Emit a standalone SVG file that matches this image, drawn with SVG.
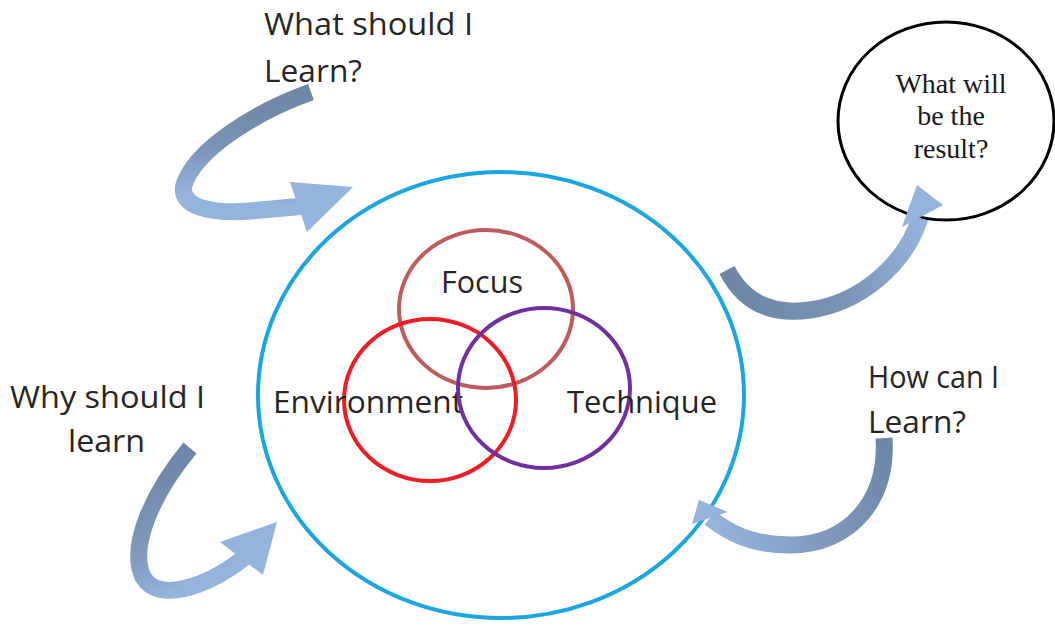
<svg xmlns="http://www.w3.org/2000/svg" width="1055" height="626" viewBox="0 0 1055 626">
<style>
.lbl{font-family:"Open Sans","Liberation Sans",Arial,sans-serif;font-size:31px;fill:#262626}
.res{font-family:"Liberation Serif","Times New Roman",serif;font-size:28px;fill:#1a1a1a;text-anchor:middle}
.rib{fill:none;stroke-width:17;stroke-linecap:butt}
.head{fill:#94b3dd}
</style>
<defs>
<linearGradient id="g1" gradientUnits="userSpaceOnUse" x1="311" y1="92" x2="300" y2="206"><stop offset="0" stop-color="#6e86a8"/><stop offset="0.5" stop-color="#7890b2"/><stop offset="1" stop-color="#94b3dd"/></linearGradient>
<linearGradient id="g2" gradientUnits="userSpaceOnUse" x1="190" y1="448" x2="242" y2="560"><stop offset="0" stop-color="#6e86a8"/><stop offset="0.6" stop-color="#8099bd"/><stop offset="1" stop-color="#94b3dd"/></linearGradient>
<linearGradient id="g3" gradientUnits="userSpaceOnUse" x1="727" y1="272" x2="920" y2="218"><stop offset="0" stop-color="#6e86a8"/><stop offset="0.5" stop-color="#7a92b4"/><stop offset="1" stop-color="#94b3dd"/></linearGradient>
<linearGradient id="g4" gradientUnits="userSpaceOnUse" x1="884" y1="440" x2="712" y2="520"><stop offset="0" stop-color="#6e86a8"/><stop offset="0.5" stop-color="#7f98bc"/><stop offset="1" stop-color="#94b3dd"/></linearGradient>
</defs>
<rect width="1055" height="626" fill="#ffffff"/>

<g id="main-circle"><ellipse cx="501" cy="395" rx="243" ry="223" fill="none" stroke="#1ba6e0" stroke-width="4"/></g>

<g id="focus"><ellipse cx="486" cy="309" rx="87" ry="79" fill="none" stroke="#bf5b5b" stroke-width="4"/><text class="lbl" x="441" y="293" textLength="82" lengthAdjust="spacingAndGlyphs">Focus</text></g>
<g id="environment"><ellipse cx="430" cy="400" rx="86" ry="81" fill="none" stroke="#ee1c25" stroke-width="4"/><text class="lbl" x="273" y="413" textLength="190" lengthAdjust="spacingAndGlyphs">Environment</text></g>
<g id="technique"><ellipse cx="544" cy="388" rx="86" ry="80" fill="none" stroke="#7030a0" stroke-width="4"/><text class="lbl" x="567" y="413" textLength="150" lengthAdjust="spacingAndGlyphs">Technique</text></g>

<g id="result"><ellipse cx="946" cy="121" rx="108" ry="99" fill="none" stroke="#000000" stroke-width="3"/>
<text class="res" x="951" y="93">What will</text>
<text class="res" x="951" y="125">be the</text>
<text class="res" x="951" y="158">result?</text></g>

<g id="q-what"><text class="lbl" x="264" y="35" textLength="209" lengthAdjust="spacingAndGlyphs">What should I</text><text class="lbl" x="264" y="82" textLength="98" lengthAdjust="spacingAndGlyphs">Learn?</text></g>
<g id="q-why"><text class="lbl" x="10" y="408" textLength="195" lengthAdjust="spacingAndGlyphs">Why should I</text><text class="lbl" x="68" y="452" textLength="77" lengthAdjust="spacingAndGlyphs">learn</text></g>
<g id="q-how"><text class="lbl" x="868" y="388" textLength="131" lengthAdjust="spacingAndGlyphs">How can I</text><text class="lbl" x="868" y="433" textLength="98" lengthAdjust="spacingAndGlyphs">Learn?</text></g>

<g id="connectors">
<path class="rib" stroke="url(#g1)" d="M311,92 C255,112 195,150 184,185 C178,208 215,214 250,211 C270,209 287,208 302,206"/>
<polygon class="head" points="290,182 353,187 307,232"/>
<path class="rib" stroke="url(#g2)" d="M190,448 C155,490 128,545 143,577 C158,603 205,588 244,558"/>
<polygon class="head" points="220,542 277,522 263,575"/>
<path class="rib" stroke="url(#g3)" stroke-width="19" d="M727,270 C745,305 775,315 810,310 C860,303 905,265 920,218"/>
<polygon class="head" points="902,227 917,185 943,205"/>
<path class="rib" stroke="url(#g4)" d="M884,438 C888,500 850,545 790,545 C750,545 728,532 710,518"/>
<polygon class="head" points="699,500 692,524 728,512"/>
</g>
</svg>
